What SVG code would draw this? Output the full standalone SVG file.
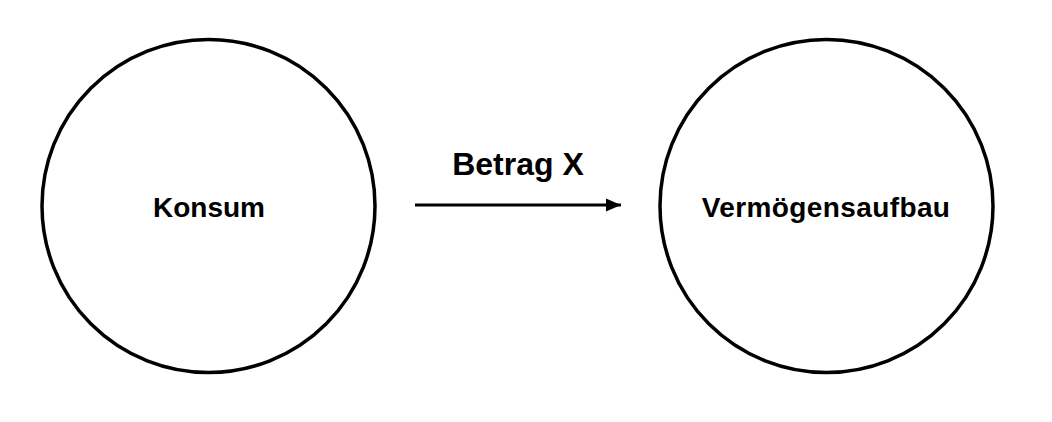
<svg xmlns="http://www.w3.org/2000/svg" width="1052" height="422" viewBox="0 0 1052 422">
<style>
.node{fill:#fff;stroke:#000;stroke-width:3.5}
.lbl{font-family:"Liberation Sans",Arial,sans-serif;font-weight:bold;font-size:28px;fill:#000;text-anchor:middle}
.edge{stroke:#000;stroke-width:3;fill:none}
.elbl{font-family:"Liberation Sans",Arial,sans-serif;font-weight:bold;font-size:32px;fill:#000;text-anchor:middle}
</style>
<defs>
<marker id="ah" markerWidth="15" markerHeight="14" refX="15" refY="7" orient="auto" markerUnits="userSpaceOnUse">
<path d="M0,0.5 L15,7 L0,13.5 Z" fill="#000"/>
</marker>
</defs>
<rect width="1052" height="422" fill="#fff"/>
<g id="node-konsum">
<circle class="node" cx="208.5" cy="206" r="166.5"/>
<text class="lbl" x="209" y="217">Konsum</text>
</g>
<g id="node-vermoegensaufbau">
<circle class="node" cx="826.5" cy="206" r="166.5"/>
<text class="lbl" x="826" y="217" letter-spacing="0.4">Vermögensaufbau</text>
</g>
<g id="connectors">
<line class="edge" x1="415" y1="205" x2="621" y2="205" marker-end="url(#ah)"/>
<text class="elbl" x="518" y="175">Betrag X</text>
</g>
</svg>
